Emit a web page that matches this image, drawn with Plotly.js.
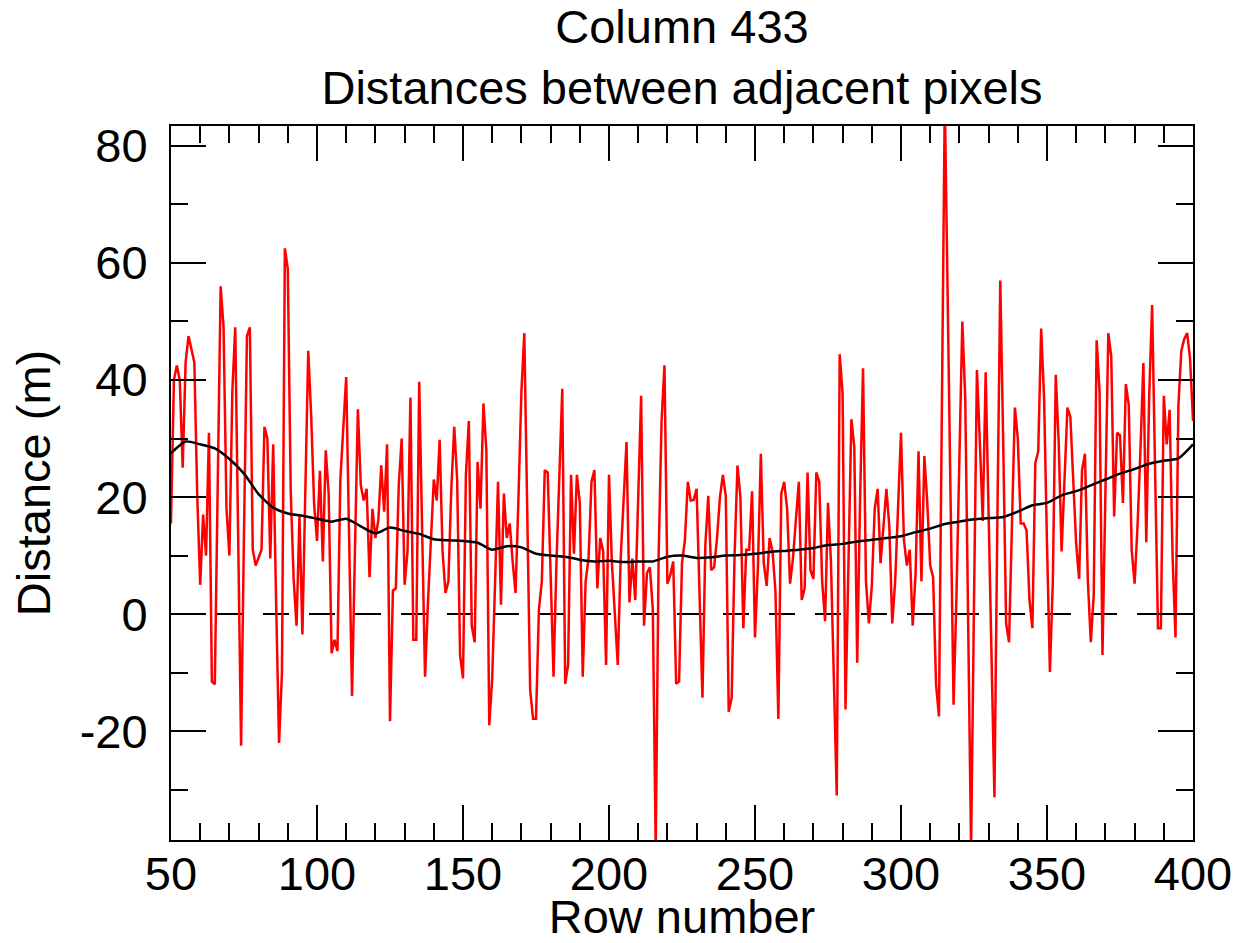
<!DOCTYPE html>
<html>
<head>
<meta charset="utf-8">
<script src="https://cdn.plot.ly/plotly-3.0.1.min.js"></script>
<style>html,body{margin:0;padding:0;background:#fff;}#chart{width:1235px;height:943px;}</style>
</head>
<body>
<div id="chart"></div>
<script>
// Row numbers 50..400 (one distance value per row)
const firstRow = 50;
const distances = [
  15.5, 40, 42.5, 40, 25, 43, 47.5, 45, 43, 20,
  5, 17, 10, 31, -11.5, -12, 22, 56, 49, 18,
  10, 38, 49, 14, -22.5, 14, 47.5, 49, 11, 8.3,
  9.5, 11, 32, 30, 9.5, 29, 2, -22, -10, 62.5,
  59, 21, 6, -2, 16.7, -3.5, 21, 45, 34, 19,
  12.5, 24.5, 9, 28, 20.5, -6.7, -4.4, -6.3, 23, 33,
  40.5, 13, -14, 11, 35, 22, 19.4, 21.4, 6.3, 18,
  13, 16, 25.4, 17.5, 29, -18.3, 4, 4.4, 22, 30,
  5, 10.7, 37, -4.4, -4.4, 39.7, 14, -10.7, 2, 13,
  23, 19.4, 29.8, 10.7, 3.6, 5.6, 21.4, 32, 23, -7,
  -11, 23.8, 33, -2, -4.8, 26, 18, 36, 28, -19,
  -11, 5.6, 22.6, 1.6, 20.6, 13, 15.5, 9, 3.6, 20,
  38, 48, 18, -13, -17.9, -17.9, 0.8, 5.6, 24.6, 24.2,
  7, -10.7, 8.7, 24, 38.5, -11.9, -8.7, 23.8, 10.3, 23.8,
  19, -10.7, 5.6, 9.5, 22.6, 24.6, 4.4, 13, 10.7, -8.7,
  23.8, 8.7, 0, -8.7, 9.5, 20, 29.4, 2, 9.5, 2.4,
  20.6, 37.3, -2, 7, 8, 0.8, -40, 10, 33, 42.5,
  5.2, 6.7, 9, -11.9, -11.5, 8.7, 12.7, 22.6, 19.4, 19.5,
  21.4, 3, -14.3, 11.9, 20.2, 7.5, 8, 13, 20, 23.8,
  20.2, -16.7, -14.3, 10, 25.4, 20, -2.4, 11, 11, 21,
  -4, 8, 27.4, 8.7, 4.8, 13, 10.7, 4, -17.9, 20.6,
  22.6, 18, 5.2, 9.5, 16, 22.6, 2.4, 4.4, 24.2, 7.5,
  6, 24.2, 22.6, 5.6, -1.2, 19, 9.1, -11, -31, 44.4,
  37.7, -16.3, 8, 33.3, 28.6, -8.3, 20, 42, 5.6, -1.6,
  4.8, 18, 21.4, 8.7, 15, 21.4, 15, -1.6, 5.6, 17.9,
  31, 12.7, 8.3, 11, -2, 7, 27.8, 5.6, 27, 19,
  8.3, 6.3, -12, -17.5, 35, 88, 53.5, 19, -15.5, 3.2,
  27, 50, 37, -2, -40, 2, 41.7, 29.4, 15.9, 41.3,
  15.9, -8, -31.3, 16, 57, 29.4, -1.6, -4.8, 16.7, 35.3,
  30, 15.5, 15.5, 14.3, 2.4, -2.4, 25.8, 27.8, 48.8, 36.9,
  12, -9.9, 5.6, 40.9, 29.4, 10.7, 23, 35.3, 33.7, 21.4,
  11.9, 6, 24.6, 27.4, 5.6, -4.8, 3.2, 46.8, 38, -7,
  20, 48, 44, 16.7, 31, 30.6, 19, 39.3, 35.7, 11,
  5.2, 15, 28, 42.9, 12.3, 37.3, 52.8, 25, -2.4, -2.4,
  37.3, 29, 34.9, 10, -4, 35.7, 45, 47, 48, 43.6,
  33
];
const rows = distances.map((_, i) => firstRow + i);

// Smoothed (running mean) curve, sampled every 5 rows
const smoothRows = [50,55,60,65,70,75,80,85,90,95,100,105,110,115,120,125,130,135,140,145,150,155,160,165,170,175,180,185,190,195,200,205,210,215,220,225,230,235,240,245,250,255,260,265,270,275,280,285,290,295,300,305,310,315,320,325,330,335,340,345,350,355,360,365,370,375,380,385,390,395,400];
const smoothVals = [27.5,29.5,29.0,28.3,26.5,24.0,20.5,18.2,17.2,16.8,16.3,15.8,16.3,15.0,13.8,14.8,14.2,13.7,12.8,12.6,12.5,12.2,11.0,11.6,11.4,10.3,10.0,9.8,9.3,9.0,9.1,8.9,9.0,9.0,9.8,10.0,9.6,9.7,10.0,10.1,10.3,10.6,10.8,11.0,11.3,11.8,12.0,12.4,12.7,13.0,13.3,14.0,14.6,15.4,15.8,16.2,16.4,16.6,17.5,18.6,19.0,20.3,21.0,22.0,23.0,24.0,24.8,25.7,26.2,26.6,29.0];

// Zero reference line
const zeroRows = [50, 400];
const zeroVals = [0, 0];

// Axis ticks
const xTickVals = [50, 100, 150, 200, 250, 300, 350, 400];
const xTickText = ['50', '100', '150', '200', '250', '300', '350', '400'];
const yTickVals = [-20, 0, 20, 40, 60, 80];
const yTickText = ['-20', '0', '20', '40', '60', '80'];

const FONT = 'Liberation Sans, Arial, Helvetica, sans-serif';

const traces = [
  {x: zeroRows, y: zeroVals, mode: 'lines', line: {color: '#000', width: 2, dash: '26px,20px'}, hoverinfo: 'skip'},
  {x: rows, y: distances, mode: 'lines', line: {color: '#ff0000', width: 2.5}},
  {x: smoothRows, y: smoothVals, mode: 'lines', line: {color: '#000', width: 2.5, shape: 'spline', smoothing: 0.6}}
];

const axisCommon = {
  showline: true, linecolor: '#000', linewidth: 2, mirror: 'ticks',
  ticks: 'inside', ticklen: 35, tickwidth: 2, tickcolor: '#000',
  showgrid: false, zeroline: false, automargin: false,
  tickfont: {family: FONT, size: 47, color: '#000'},
  tickmode: 'array'
};

const layout = {
  width: 1235, height: 943,
  paper_bgcolor: '#fff', plot_bgcolor: '#fff',
  showlegend: false,
  margin: {l: 171, r: 42, t: 126, b: 103, pad: 0},
  font: {family: FONT, size: 47, color: '#000'},
  title: {
    text: 'Column 433<br>Distances between adjacent pixels',
    font: {family: FONT, size: 47, color: '#000'},
    x: 0.5, xanchor: 'center', xref: 'paper',
    y: 1 - 43 / 943, yanchor: 'middle', yref: 'container'
  },
  xaxis: Object.assign({}, axisCommon, {
    range: [50, 400], tickvals: xTickVals, ticktext: xTickText,
    ticklabelstandoff: -8,
    minor: {dtick: 10, ticklen: 17, tickwidth: 2, tickcolor: '#000', ticks: 'inside', showgrid: false},
    title: {text: 'Row number', font: {family: FONT, size: 47, color: '#000'}, standoff: 15}
  }),
  yaxis: Object.assign({}, axisCommon, {
    range: [-38.6, 83.4], tickvals: yTickVals, ticktext: yTickText,
    ticklabelstandoff: 12,
    minor: {dtick: 10, ticklen: 17, tickwidth: 2, tickcolor: '#000', ticks: 'inside', showgrid: false},
    title: {text: 'Distance (m)', font: {family: FONT, size: 47, color: '#000'}, standoff: 14}
  })
};

Plotly.newPlot('chart', traces, layout, {staticPlot: true, displayModeBar: false});
</script>
</body>
</html>
